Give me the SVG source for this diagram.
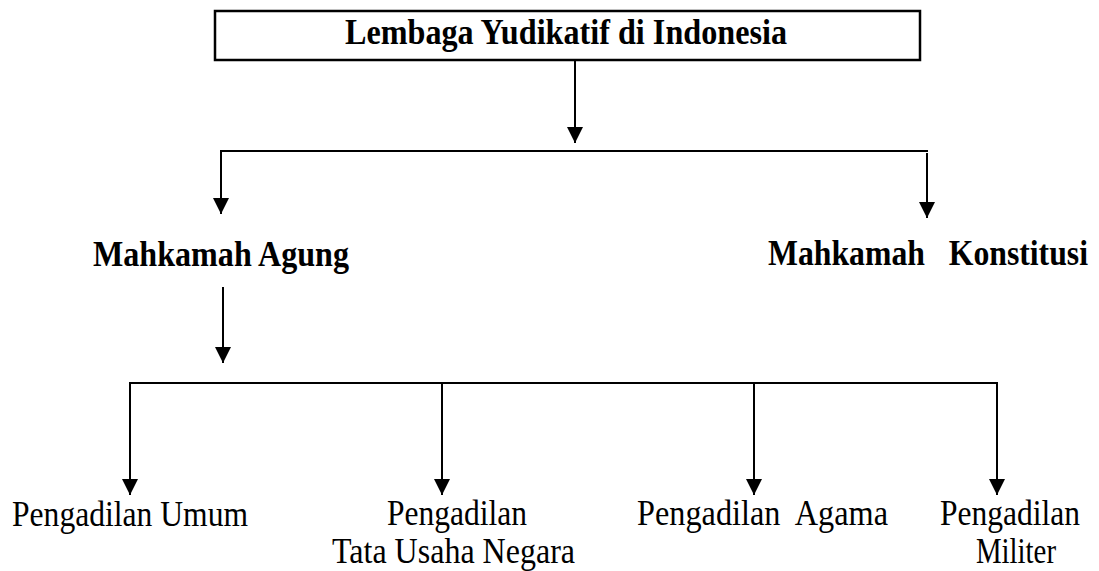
<svg xmlns="http://www.w3.org/2000/svg" width="1099" height="571" viewBox="0 0 1099 571">
  <style>
    .bold { font-family: "Liberation Serif", "Times New Roman", serif; font-size: 35px; font-weight: bold; fill: #000; white-space: pre; }
    .reg { font-family: "Liberation Serif", "Times New Roman", serif; font-size: 35px; fill: #000; white-space: pre; }
    .ln { stroke: #000; stroke-width: 2; fill: none; }
    .arr { stroke: #000; stroke-width: 2; fill: none; marker-end: url(#ah); }
  </style>
  <defs>
    <marker id="ah" markerUnits="userSpaceOnUse" markerWidth="16" markerHeight="16" viewBox="0 0 15 15" refX="15" refY="7.5" orient="auto">
      <path d="M0,0 L15,7.5 L0,15 Z" fill="#000"/>
    </marker>
  </defs>
  <rect width="1099" height="571" fill="#fff"/>

  <g id="node-lembaga">
    <rect x="215" y="11" width="705" height="49" fill="none" stroke="#000" stroke-width="2.5"/>
    <text class="bold" x="345" y="44" textLength="442" lengthAdjust="spacingAndGlyphs">Lembaga Yudikatif di Indonesia</text>
  </g>
  <g id="node-ma">
    <text class="bold" x="93" y="266" textLength="256" lengthAdjust="spacingAndGlyphs">Mahkamah Agung</text>
  </g>
  <g id="node-mk">
    <text class="bold" style="font-size:32px" transform="translate(768,265) scale(1,1.094)" x="0" y="0" textLength="320" lengthAdjust="spacingAndGlyphs">Mahkamah   Konstitusi</text>
  </g>
  <g id="node-umum">
    <text class="reg" x="12" y="526" textLength="236" lengthAdjust="spacingAndGlyphs">Pengadilan Umum</text>
  </g>
  <g id="node-tun">
    <text class="reg" x="387" y="525" textLength="140" lengthAdjust="spacingAndGlyphs">Pengadilan</text>
    <text class="reg" x="332" y="563" textLength="243" lengthAdjust="spacingAndGlyphs">Tata Usaha Negara</text>
  </g>
  <g id="node-agama">
    <text class="reg" x="637" y="525" textLength="251" lengthAdjust="spacingAndGlyphs">Pengadilan  Agama</text>
  </g>
  <g id="node-militer">
    <text class="reg" x="940" y="525" textLength="140" lengthAdjust="spacingAndGlyphs">Pengadilan</text>
    <text class="reg" x="976" y="563" textLength="80" lengthAdjust="spacingAndGlyphs">Militer</text>
  </g>

  <g id="connectors">
    <line class="arr" x1="575" y1="60" x2="575" y2="143"/>
    <line class="ln" x1="220" y1="151" x2="928" y2="151"/>
    <line class="arr" x1="221" y1="150" x2="221" y2="214"/>
    <line class="arr" x1="927" y1="153" x2="927" y2="218"/>
    <line class="arr" x1="223" y1="287" x2="223" y2="363"/>
    <line class="ln" x1="129" y1="383" x2="998" y2="383"/>
    <line class="arr" x1="130" y1="382" x2="130" y2="495"/>
    <line class="arr" x1="442" y1="383" x2="442" y2="495"/>
    <line class="arr" x1="754" y1="383" x2="754" y2="495"/>
    <line class="arr" x1="997" y1="382" x2="997" y2="495"/>
  </g>
</svg>
